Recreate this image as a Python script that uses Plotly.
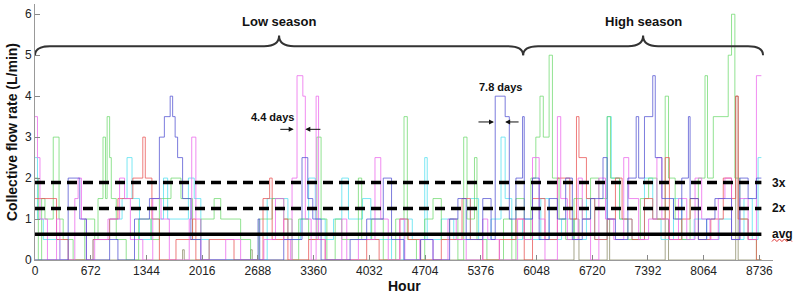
import plotly.graph_objects as go

END_HOUR = 8760
x_ticks = [0, 672, 1344, 2016, 2688, 3360, 4032, 4704, 5376, 6048, 6720, 7392, 8064, 8736]
y_ticks = [0, 1, 2, 3, 4, 5, 6]

avg_rate = 0.63
x2_rate = 1.26
x3_rate = 1.89

magenta_h = [0, 30, 60, 150, 260, 300, 480, 520, 560, 620, 720, 880, 1020, 1080, 1150, 1300, 1420, 1520, 1620, 1860, 1890, 1940, 2000, 2300, 2480, 2760, 2900, 3000, 3080, 3100, 3160, 3230, 3260, 3330, 3390, 3420, 3500, 3700, 3760, 3900, 4100, 4170, 4260, 4400, 4460, 4640, 4800, 4980, 5080, 5200, 5400, 5460, 5600, 5820, 5900, 6000, 6080, 6150, 6300, 6340, 6420, 6550, 6600, 6700, 6800, 6880, 6980, 7100, 7160, 7280, 7400, 7500, 7560, 7650, 7760, 7860, 7960, 8040, 8140, 8240, 8320, 8400, 8500, 8600, 8700]
magenta_v = [3.5, 2.5, 1, 0, 1, 0, 1.5, 2, 1, 0, 0.5, 1, 2, 1.5, 0.5, 0, 1.5, 1, 0, 1, 3, 1, 0, 0.5, 0, 0.5, 1.5, 0.5, 0, 2, 4.5, 4, 1, 0, 4, 0.5, 0, 1, 0, 0.5, 2.5, 1, 0, 1, 0, 0.5, 0, 1, 0.5, 0, 1, 0.5, 0, 1, 0.5, 2.5, 1, 0, 3.5, 1.5, 0.5, 2, 1, 0, 2, 1, 0.5, 2.5, 1.5, 0.5, 1, 2.5, 1, 0.5, 1.5, 0.5, 2, 1, 0.5, 1.5, 2, 0.5, 1.5, 0.5, 4.5]

green_h = [0, 40, 80, 120, 220, 290, 340, 460, 600, 720, 760, 820, 850, 870, 900, 920, 980, 1100, 1250, 1400, 1500, 1640, 1760, 1900, 2000, 2160, 2240, 2480, 2600, 2700, 2860, 3000, 3100, 3180, 3300, 3400, 3450, 3520, 3620, 3700, 3900, 3940, 4060, 4200, 4350, 4450, 4490, 4600, 4700, 4800, 4900, 5000, 5100, 5170, 5210, 5300, 5330, 5450, 5650, 5750, 5800, 5900, 5980, 6040, 6090, 6130, 6200, 6240, 6320, 6400, 6500, 6600, 6700, 6800, 6900, 6940, 7050, 7150, 7300, 7400, 7500, 7600, 7640, 7720, 7800, 7900, 8000, 8080, 8110, 8180, 8360, 8400, 8440, 8500, 8600, 8700]
green_v = [2, 0, 1.5, 1, 3, 1, 0.5, 0, 1, 0.5, 1.5, 3, 1.5, 3.5, 2.5, 1.5, 0.5, 0, 1, 0.5, 1.5, 2, 1.5, 0.5, 1, 1.5, 1, 0.5, 0, 1, 1.5, 1, 0, 1, 0.5, 3, 1, 0, 1, 0.5, 2, 0.5, 1, 0, 1, 3.5, 0.5, 0, 1, 1.5, 0.5, 1, 0, 3, 1, 2.5, 0.5, 0, 1, 0, 1.5, 0.5, 2, 3, 4, 3, 5, 2, 1, 0.5, 1.5, 1, 2, 1.5, 3.5, 2, 1, 0.5, 1.5, 2, 1, 4, 2, 1, 0.5, 1.5, 2, 4.5, 2, 3.5, 5, 6, 2, 1, 0.5, 0]

red_h = [0, 260, 400, 700, 900, 1000, 1180, 1300, 1330, 1410, 1500, 1700, 1900, 1940, 2100, 2400, 2750, 2830, 2860, 3000, 3050, 3300, 3500, 4000, 4150, 4400, 4500, 4650, 4900, 5150, 5250, 5400, 5600, 5800, 5900, 6000, 6150, 6300, 6450, 6530, 6560, 6650, 6750, 6900, 7000, 7080, 7200, 7350, 7450, 7600, 7650, 7800, 7900, 8000, 8150, 8300, 8400, 8450, 8480, 8600, 8700]
red_v = [1.5, 0.5, 0, 0.5, 1, 1.5, 2, 3, 2, 1, 0, 0.5, 1, 0, 0.5, 0, 1.5, 2, 0.5, 1, 0, 0.5, 0, 0.5, 0, 1, 0.5, 0, 0.5, 1.5, 0.5, 0, 0.5, 1, 0, 1.5, 0.5, 2, 1, 3.5, 2.5, 1.5, 0.5, 1, 2, 1, 0.5, 1.5, 1, 2.5, 0.5, 1, 1.5, 0.5, 1, 2, 1.5, 4, 1, 0.5, 0]

blue_h = [0, 400, 540, 620, 900, 1000, 1200, 1380, 1500, 1560, 1630, 1660, 1690, 1720, 1780, 1880, 2000, 2690, 2710, 3000, 3220, 3290, 3350, 3450, 3800, 4000, 4200, 4300, 4450, 4650, 4800, 5000, 5100, 5200, 5400, 5500, 5550, 5670, 5720, 5800, 5880, 5900, 6000, 6080, 6200, 6300, 6400, 6480, 6600, 6700, 6850, 6900, 7000, 7150, 7250, 7280, 7350, 7450, 7480, 7560, 7700, 7800, 7880, 7900, 8000, 8100, 8200, 8400, 8500, 8600, 8700]
blue_v = [0, 2, 1, 0, 0.5, 0, 1, 1.5, 3, 3.5, 4, 3.5, 3, 2.5, 1.5, 0.5, 0, 1, 0, 0.5, 2.5, 1.5, 1, 0, 0.5, 1, 2, 0.5, 0, 0.5, 0, 1, 1.5, 0.5, 1.5, 0.5, 4, 3.5, 1, 2, 3.5, 1, 2, 0.5, 1.5, 1, 2, 0.5, 1, 1.5, 2.5, 1, 0.5, 2, 3.5, 2, 3.5, 4.5, 2.5, 1.5, 1, 2, 3.5, 1.5, 0.5, 1, 1.5, 0.5, 2, 1.5, 2]

cyan_h = [0, 30, 100, 300, 700, 900, 1050, 1110, 1170, 1260, 1400, 1550, 1600, 1850, 1920, 2000, 2100, 2800, 3050, 3200, 3300, 3380, 3500, 3600, 3700, 3780, 3950, 4050, 4300, 4450, 4550, 4700, 4730, 4900, 5050, 5250, 5350, 5500, 5620, 5670, 5750, 5880, 6000, 6100, 6200, 6350, 6500, 6650, 6750, 6900, 6950, 7050, 7200, 7350, 7450, 7550, 7700, 7800, 7950, 8100, 8250, 8400, 8550, 8650, 8720]
cyan_v = [2.5, 1, 0.5, 0, 0.5, 1, 1.5, 2.5, 1.5, 0.5, 1, 2, 1, 2, 1.5, 0.5, 0, 1.5, 0.5, 1, 2, 1, 0.5, 1, 2, 1, 1.5, 0.5, 0, 1, 0.5, 2.5, 0.5, 1, 0.5, 1.5, 0.5, 1, 3, 1.5, 0.5, 1, 0.5, 1.5, 0.5, 1, 0.5, 1.5, 0.5, 3.5, 2, 1, 0.5, 2, 1, 0.5, 1.5, 0.5, 1, 0.5, 1, 0.5, 1.5, 0.5, 2.5]

gray_h = [0, 1780, 1800, 2600, 2620, 6500, 6560, 6900, 6930, 7600, 7640, 8450, 8480]
gray_v = [0, 0.25, 0, 0.25, 0, 1, 0, 1, 0, 1, 0, 4, 0]

series = [
    ("gray", gray_h, gray_v, "rgba(130,130,90,0.7)"),
    ("cyan", cyan_h, cyan_v, "rgba(90,225,240,0.8)"),
    ("green", green_h, green_v, "rgba(100,215,100,0.7)"),
    ("red", red_h, red_v, "rgba(232,80,80,0.75)"),
    ("magenta", magenta_h, magenta_v, "rgba(235,100,235,0.75)"),
    ("blue", blue_h, blue_v, "rgba(80,80,210,0.75)"),
]

FONT = "Liberation Sans, Arial, sans-serif"

fig = go.Figure()
for name, hs, vs, col in series:
    fig.add_trace(go.Scatter(
        x=hs + [END_HOUR], y=vs + [vs[-1]], mode="lines", line_shape="hv",
        line=dict(color=col, width=1), name=name, showlegend=False, hoverinfo="skip"))

for val, dash in [(avg_rate, "solid"), (x2_rate, "10px,6px"), (x3_rate, "10px,6px")]:
    fig.add_trace(go.Scatter(x=[0, END_HOUR], y=[val, val], mode="lines",
                             line=dict(color="black", width=3.5, dash=dash),
                             showlegend=False, hoverinfo="skip"))

# braces
low_end = 5887
high_end = 8780
def brace(x0, x1):
    c = (x0 + x1) / 2
    return (f"M {x0},5.0 Q {x0},5.22 {x0+180},5.22 L {c-180},5.22 "
            f"Q {c},5.22 {c},5.48 Q {c},5.22 {c+180},5.22 L {x1-180},5.22 "
            f"Q {x1},5.22 {x1},5.0")
for a, b in [(0, low_end), (low_end, high_end)]:
    fig.add_shape(type="path", path=brace(a, b), xref="x", yref="y",
                  line=dict(color="#333333", width=2))

bold = dict(family=FONT, size=13, color="#111111")
fig.add_annotation(x=low_end / 2, y=5.82, text="<b>Low season</b>", showarrow=False, font=bold)
fig.add_annotation(x=(low_end + high_end) / 2, y=5.82, text="<b>High season</b>", showarrow=False, font=bold)

small_bold = dict(family=FONT, size=11, color="#111111")
fig.add_annotation(x=2870, y=3.5, text="<b>4.4 days</b>", showarrow=False, font=small_bold)
fig.add_annotation(x=5608, y=4.22, text="<b>7.8 days</b>", showarrow=False, font=small_bold)
for (tx, ty, fx) in [(3120, 3.19, 2940), (3260, 3.19, 3460), (5535, 3.37, 5330), (5670, 3.37, 5850)]:
    fig.add_annotation(x=tx, y=ty, ax=fx, ay=ty, axref="x", ayref="y", xref="x", yref="y",
                       text="", showarrow=True, arrowhead=2, arrowsize=1, arrowwidth=1,
                       arrowcolor="#111111")

for val, lab in [(x3_rate, "3x"), (x2_rate, "2x"), (avg_rate, "avg")]:
    fig.add_annotation(x=0.996, xref="paper", y=val, text=f"<b>{lab}</b>", showarrow=False,
                       xanchor="left", font=dict(family=FONT, size=12, color="#111111"))

# red spell-check squiggle under "avg"
sq_y = 0.072
sq = f"M 0.9985,{sq_y}"
xs = 0.9985
for i in range(8):
    xs += 0.0034
    sq += f" L {xs:.4f},{sq_y + (0.01 if i % 2 == 0 else 0):.4f}"
fig.add_shape(type="path", path=sq, xref="paper", yref="paper",
              line=dict(color="#e03030", width=1))

# axis titles
fig.add_annotation(x=-0.031, y=0.5, xref="paper", yref="paper", xanchor="center", yanchor="middle",
                   text="<b>Collective flow rate (L/min)</b>",
                   textangle=-90, showarrow=False, font=dict(family=FONT, size=14, color="#111111"))
fig.add_annotation(x=0.5, y=-0.102, xref="paper", yref="paper", xanchor="center", yanchor="middle",
                   text="<b>Hour</b>",
                   showarrow=False, font=dict(family=FONT, size=14, color="#111111"))

axis_font = dict(family=FONT, size=12, color="#222222")
fig.update_xaxes(range=[0, 8900], tickvals=x_ticks, ticks="inside", ticklen=5,
                 tickcolor="#888888", showline=True, linecolor="#999999", linewidth=1,
                 showgrid=False, zeroline=False, tickfont=axis_font, automargin=False)
fig.update_yaxes(range=[0, 6.25], tickvals=y_ticks, ticks="inside", ticklen=5,
                 tickcolor="#888888", showline=True, linecolor="#999999", linewidth=1,
                 showgrid=False, zeroline=False, tickfont=axis_font, automargin=False)

fig.update_layout(width=794, height=300, margin=dict(l=35, r=21, t=4, b=40, autoexpand=False),
                  plot_bgcolor="white", paper_bgcolor="white")

fig.write_html("out.html", config={"displayModeBar": False},
               post_script="document.body.style.margin='0';")
